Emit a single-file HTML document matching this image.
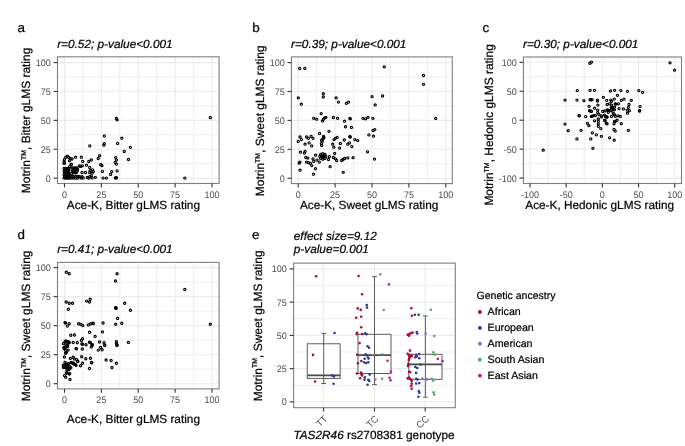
<!DOCTYPE html><html><head><meta charset="utf-8"><style>html,body{margin:0;padding:0;background:#fff;}svg{display:block;will-change:transform;}.k{fill:#000;stroke:#000;stroke-width:.22px;}.g{fill:#4d4d4d;}.pt circle{fill:none;stroke:#000;stroke-width:1.15px;}</style></head><body><svg width="685" height="446" viewBox="0 0 685 446" text-rendering="geometricPrecision" font-family='"Liberation Sans", sans-serif'>
<rect width="685" height="446" fill="#fff"/>
<line x1="64.50" y1="56.8" x2="64.50" y2="183.5" stroke="#ebebeb" stroke-width="1.1"/>
<line x1="101.38" y1="56.8" x2="101.38" y2="183.5" stroke="#ebebeb" stroke-width="1.1"/>
<line x1="138.25" y1="56.8" x2="138.25" y2="183.5" stroke="#ebebeb" stroke-width="1.1"/>
<line x1="175.12" y1="56.8" x2="175.12" y2="183.5" stroke="#ebebeb" stroke-width="1.1"/>
<line x1="212.00" y1="56.8" x2="212.00" y2="183.5" stroke="#ebebeb" stroke-width="1.1"/>
<line x1="82.94" y1="56.8" x2="82.94" y2="183.5" stroke="#ebebeb" stroke-width="0.8"/>
<line x1="119.81" y1="56.8" x2="119.81" y2="183.5" stroke="#ebebeb" stroke-width="0.8"/>
<line x1="156.69" y1="56.8" x2="156.69" y2="183.5" stroke="#ebebeb" stroke-width="0.8"/>
<line x1="193.56" y1="56.8" x2="193.56" y2="183.5" stroke="#ebebeb" stroke-width="0.8"/>
<line x1="57.5" y1="178.10" x2="219.1" y2="178.10" stroke="#ebebeb" stroke-width="1.1"/>
<line x1="57.5" y1="149.22" x2="219.1" y2="149.22" stroke="#ebebeb" stroke-width="1.1"/>
<line x1="57.5" y1="120.35" x2="219.1" y2="120.35" stroke="#ebebeb" stroke-width="1.1"/>
<line x1="57.5" y1="91.47" x2="219.1" y2="91.47" stroke="#ebebeb" stroke-width="1.1"/>
<line x1="57.5" y1="62.60" x2="219.1" y2="62.60" stroke="#ebebeb" stroke-width="1.1"/>
<line x1="57.5" y1="163.66" x2="219.1" y2="163.66" stroke="#ebebeb" stroke-width="0.8"/>
<line x1="57.5" y1="134.79" x2="219.1" y2="134.79" stroke="#ebebeb" stroke-width="0.8"/>
<line x1="57.5" y1="105.91" x2="219.1" y2="105.91" stroke="#ebebeb" stroke-width="0.8"/>
<line x1="57.5" y1="77.04" x2="219.1" y2="77.04" stroke="#ebebeb" stroke-width="0.8"/>
<g class="pt">
<circle cx="116.40" cy="118.40" r="1.1"/>
<circle cx="117.10" cy="119.80" r="1.1"/>
<circle cx="210.30" cy="117.70" r="1.1"/>
<circle cx="104.30" cy="135.90" r="1.1"/>
<circle cx="121.80" cy="138.20" r="1.1"/>
<circle cx="89.80" cy="145.90" r="1.1"/>
<circle cx="104.30" cy="143.60" r="1.1"/>
<circle cx="103.80" cy="145.20" r="1.1"/>
<circle cx="117.60" cy="143.40" r="1.1"/>
<circle cx="130.40" cy="147.30" r="1.1"/>
<circle cx="124.30" cy="151.50" r="1.1"/>
<circle cx="128.50" cy="159.50" r="1.1"/>
<circle cx="99.60" cy="155.70" r="1.1"/>
<circle cx="98.20" cy="158.50" r="1.1"/>
<circle cx="115.70" cy="157.60" r="1.1"/>
<circle cx="116.40" cy="159.90" r="1.1"/>
<circle cx="115.20" cy="162.30" r="1.1"/>
<circle cx="116.40" cy="164.10" r="1.1"/>
<circle cx="100.70" cy="164.60" r="1.1"/>
<circle cx="101.90" cy="165.50" r="1.1"/>
<circle cx="117.10" cy="170.90" r="1.1"/>
<circle cx="111.70" cy="171.60" r="1.1"/>
<circle cx="110.60" cy="174.40" r="1.1"/>
<circle cx="102.40" cy="171.40" r="1.1"/>
<circle cx="103.10" cy="178.10" r="1.1"/>
<circle cx="106.40" cy="178.10" r="1.1"/>
<circle cx="115.90" cy="178.10" r="1.1"/>
<circle cx="116.50" cy="177.60" r="1.1"/>
<circle cx="115.30" cy="177.80" r="1.1"/>
<circle cx="184.80" cy="178.10" r="1.1"/>
<circle cx="67.30" cy="156.10" r="1.1"/>
<circle cx="65.90" cy="157.20" r="1.1"/>
<circle cx="68.80" cy="157.50" r="1.1"/>
<circle cx="70.20" cy="158.60" r="1.1"/>
<circle cx="72.00" cy="159.00" r="1.1"/>
<circle cx="75.60" cy="157.20" r="1.1"/>
<circle cx="81.30" cy="157.20" r="1.1"/>
<circle cx="64.50" cy="159.30" r="1.1"/>
<circle cx="64.10" cy="161.50" r="1.1"/>
<circle cx="64.50" cy="162.90" r="1.1"/>
<circle cx="69.50" cy="160.80" r="1.1"/>
<circle cx="82.70" cy="161.50" r="1.1"/>
<circle cx="88.80" cy="161.50" r="1.1"/>
<circle cx="91.30" cy="160.00" r="1.1"/>
<circle cx="71.30" cy="164.30" r="1.1"/>
<circle cx="69.80" cy="166.50" r="1.1"/>
<circle cx="64.00" cy="163.40" r="1.1"/>
<circle cx="71.30" cy="164.40" r="1.1"/>
<circle cx="79.40" cy="165.80" r="1.1"/>
<circle cx="80.60" cy="166.40" r="1.1"/>
<circle cx="82.40" cy="165.80" r="1.1"/>
<circle cx="86.50" cy="165.20" r="1.1"/>
<circle cx="89.70" cy="167.40" r="1.1"/>
<circle cx="82.00" cy="172.50" r="1.1"/>
<circle cx="85.50" cy="172.50" r="1.1"/>
<circle cx="90.10" cy="170.70" r="1.1"/>
<circle cx="92.50" cy="169.90" r="1.1"/>
<circle cx="93.30" cy="171.50" r="1.1"/>
<circle cx="89.70" cy="172.70" r="1.1"/>
<circle cx="92.10" cy="173.10" r="1.1"/>
<circle cx="87.30" cy="177.50" r="1.1"/>
<circle cx="89.70" cy="176.70" r="1.1"/>
<circle cx="91.30" cy="175.90" r="1.1"/>
<circle cx="92.10" cy="177.90" r="1.1"/>
<circle cx="88.90" cy="178.10" r="1.1"/>
<circle cx="95.30" cy="177.30" r="1.1"/>
<circle cx="78.80" cy="176.30" r="1.1"/>
<circle cx="80.40" cy="177.10" r="1.1"/>
<circle cx="82.00" cy="176.70" r="1.1"/>
<circle cx="83.20" cy="177.90" r="1.1"/>
<circle cx="81.20" cy="178.10" r="1.1"/>
<circle cx="76.30" cy="172.50" r="1.1"/>
<circle cx="71.70" cy="173.50" r="1.1"/>
<circle cx="69.30" cy="174.50" r="1.1"/>
<circle cx="68.90" cy="169.00" r="1.1"/>
<circle cx="64.10" cy="168.40" r="1.1"/>
<circle cx="64.60" cy="170.00" r="1.1"/>
<circle cx="64.10" cy="171.60" r="1.1"/>
<circle cx="64.60" cy="173.20" r="1.1"/>
<circle cx="64.10" cy="174.80" r="1.1"/>
<circle cx="64.60" cy="176.40" r="1.1"/>
<circle cx="64.10" cy="178.10" r="1.1"/>
<circle cx="65.60" cy="168.40" r="1.1"/>
<circle cx="66.10" cy="170.00" r="1.1"/>
<circle cx="65.60" cy="171.60" r="1.1"/>
<circle cx="66.10" cy="173.20" r="1.1"/>
<circle cx="65.60" cy="174.80" r="1.1"/>
<circle cx="66.10" cy="176.40" r="1.1"/>
<circle cx="65.60" cy="178.10" r="1.1"/>
<circle cx="67.10" cy="168.40" r="1.1"/>
<circle cx="67.60" cy="170.00" r="1.1"/>
<circle cx="67.10" cy="171.60" r="1.1"/>
<circle cx="67.60" cy="173.20" r="1.1"/>
<circle cx="67.10" cy="174.80" r="1.1"/>
<circle cx="67.60" cy="176.40" r="1.1"/>
<circle cx="67.10" cy="178.10" r="1.1"/>
<circle cx="68.40" cy="168.40" r="1.1"/>
<circle cx="68.90" cy="170.00" r="1.1"/>
<circle cx="68.40" cy="171.60" r="1.1"/>
<circle cx="68.90" cy="173.20" r="1.1"/>
<circle cx="68.40" cy="174.80" r="1.1"/>
<circle cx="68.90" cy="176.40" r="1.1"/>
<circle cx="68.40" cy="178.10" r="1.1"/>
<circle cx="69.90" cy="176.40" r="1.1"/>
<circle cx="70.00" cy="178.10" r="1.1"/>
<circle cx="72.40" cy="168.00" r="1.1"/>
<circle cx="73.00" cy="169.60" r="1.1"/>
<circle cx="72.40" cy="171.20" r="1.1"/>
<circle cx="74.00" cy="168.00" r="1.1"/>
<circle cx="74.60" cy="169.60" r="1.1"/>
<circle cx="74.00" cy="171.20" r="1.1"/>
<circle cx="75.60" cy="168.00" r="1.1"/>
<circle cx="76.20" cy="169.60" r="1.1"/>
<circle cx="75.60" cy="171.20" r="1.1"/>
<circle cx="77.00" cy="168.00" r="1.1"/>
<circle cx="77.60" cy="169.60" r="1.1"/>
<circle cx="77.00" cy="171.20" r="1.1"/>
<circle cx="73.60" cy="172.60" r="1.1"/>
<circle cx="75.40" cy="172.80" r="1.1"/>
<circle cx="71.80" cy="176.40" r="1.1"/>
<circle cx="71.80" cy="178.10" r="1.1"/>
<circle cx="73.80" cy="176.40" r="1.1"/>
<circle cx="73.80" cy="178.10" r="1.1"/>
<circle cx="75.80" cy="176.40" r="1.1"/>
<circle cx="75.80" cy="178.10" r="1.1"/>
<circle cx="77.80" cy="176.40" r="1.1"/>
<circle cx="77.80" cy="178.10" r="1.1"/>
</g>
<rect x="57.5" y="56.8" width="161.60" height="126.70" fill="none" stroke="#7f7f7f" stroke-width="1.1"/>
<line x1="53.60" y1="178.10" x2="57.5" y2="178.10" stroke="#333333" stroke-width="1.1"/>
<text class="g" transform="translate(50.80,181.65) scale(0.95,1)" font-size="9.5" text-anchor="end">0</text>
<line x1="53.60" y1="149.22" x2="57.5" y2="149.22" stroke="#333333" stroke-width="1.1"/>
<text class="g" transform="translate(50.80,152.78) scale(0.95,1)" font-size="9.5" text-anchor="end">25</text>
<line x1="53.60" y1="120.35" x2="57.5" y2="120.35" stroke="#333333" stroke-width="1.1"/>
<text class="g" transform="translate(50.80,123.90) scale(0.95,1)" font-size="9.5" text-anchor="end">50</text>
<line x1="53.60" y1="91.47" x2="57.5" y2="91.47" stroke="#333333" stroke-width="1.1"/>
<text class="g" transform="translate(50.80,95.02) scale(0.95,1)" font-size="9.5" text-anchor="end">75</text>
<line x1="53.60" y1="62.60" x2="57.5" y2="62.60" stroke="#333333" stroke-width="1.1"/>
<text class="g" transform="translate(50.80,66.15) scale(0.95,1)" font-size="9.5" text-anchor="end">100</text>
<line x1="64.50" y1="183.5" x2="64.50" y2="187.40" stroke="#333333" stroke-width="1.1"/>
<text class="g" transform="translate(64.50,197.80) scale(0.95,1)" font-size="9.5" text-anchor="middle">0</text>
<line x1="101.38" y1="183.5" x2="101.38" y2="187.40" stroke="#333333" stroke-width="1.1"/>
<text class="g" transform="translate(101.38,197.80) scale(0.95,1)" font-size="9.5" text-anchor="middle">25</text>
<line x1="138.25" y1="183.5" x2="138.25" y2="187.40" stroke="#333333" stroke-width="1.1"/>
<text class="g" transform="translate(138.25,197.80) scale(0.95,1)" font-size="9.5" text-anchor="middle">50</text>
<line x1="175.12" y1="183.5" x2="175.12" y2="187.40" stroke="#333333" stroke-width="1.1"/>
<text class="g" transform="translate(175.12,197.80) scale(0.95,1)" font-size="9.5" text-anchor="middle">75</text>
<line x1="212.00" y1="183.5" x2="212.00" y2="187.40" stroke="#333333" stroke-width="1.1"/>
<text class="g" transform="translate(212.00,197.80) scale(0.95,1)" font-size="9.5" text-anchor="middle">100</text>
<line x1="298.20" y1="56.9" x2="298.20" y2="183.6" stroke="#ebebeb" stroke-width="1.1"/>
<line x1="335.10" y1="56.9" x2="335.10" y2="183.6" stroke="#ebebeb" stroke-width="1.1"/>
<line x1="372.00" y1="56.9" x2="372.00" y2="183.6" stroke="#ebebeb" stroke-width="1.1"/>
<line x1="408.90" y1="56.9" x2="408.90" y2="183.6" stroke="#ebebeb" stroke-width="1.1"/>
<line x1="445.80" y1="56.9" x2="445.80" y2="183.6" stroke="#ebebeb" stroke-width="1.1"/>
<line x1="316.65" y1="56.9" x2="316.65" y2="183.6" stroke="#ebebeb" stroke-width="0.8"/>
<line x1="353.55" y1="56.9" x2="353.55" y2="183.6" stroke="#ebebeb" stroke-width="0.8"/>
<line x1="390.45" y1="56.9" x2="390.45" y2="183.6" stroke="#ebebeb" stroke-width="0.8"/>
<line x1="427.35" y1="56.9" x2="427.35" y2="183.6" stroke="#ebebeb" stroke-width="0.8"/>
<line x1="291.4" y1="178.20" x2="452.3" y2="178.20" stroke="#ebebeb" stroke-width="1.1"/>
<line x1="291.4" y1="149.30" x2="452.3" y2="149.30" stroke="#ebebeb" stroke-width="1.1"/>
<line x1="291.4" y1="120.40" x2="452.3" y2="120.40" stroke="#ebebeb" stroke-width="1.1"/>
<line x1="291.4" y1="91.50" x2="452.3" y2="91.50" stroke="#ebebeb" stroke-width="1.1"/>
<line x1="291.4" y1="62.60" x2="452.3" y2="62.60" stroke="#ebebeb" stroke-width="1.1"/>
<line x1="291.4" y1="163.75" x2="452.3" y2="163.75" stroke="#ebebeb" stroke-width="0.8"/>
<line x1="291.4" y1="134.85" x2="452.3" y2="134.85" stroke="#ebebeb" stroke-width="0.8"/>
<line x1="291.4" y1="105.95" x2="452.3" y2="105.95" stroke="#ebebeb" stroke-width="0.8"/>
<line x1="291.4" y1="77.05" x2="452.3" y2="77.05" stroke="#ebebeb" stroke-width="0.8"/>
<g class="pt">
<circle cx="299.70" cy="68.40" r="1.1"/>
<circle cx="304.80" cy="68.40" r="1.1"/>
<circle cx="384.30" cy="66.80" r="1.1"/>
<circle cx="423.50" cy="75.50" r="1.1"/>
<circle cx="423.50" cy="84.30" r="1.1"/>
<circle cx="298.30" cy="97.90" r="1.1"/>
<circle cx="301.30" cy="104.20" r="1.1"/>
<circle cx="323.30" cy="93.70" r="1.1"/>
<circle cx="323.30" cy="97.00" r="1.1"/>
<circle cx="336.10" cy="97.90" r="1.1"/>
<circle cx="338.50" cy="102.10" r="1.1"/>
<circle cx="346.40" cy="103.30" r="1.1"/>
<circle cx="348.50" cy="102.10" r="1.1"/>
<circle cx="372.10" cy="96.70" r="1.1"/>
<circle cx="382.60" cy="96.00" r="1.1"/>
<circle cx="375.20" cy="104.90" r="1.1"/>
<circle cx="321.20" cy="113.60" r="1.1"/>
<circle cx="435.70" cy="118.40" r="1.1"/>
<circle cx="313.70" cy="118.30" r="1.1"/>
<circle cx="316.70" cy="119.20" r="1.1"/>
<circle cx="322.50" cy="120.90" r="1.1"/>
<circle cx="323.50" cy="119.20" r="1.1"/>
<circle cx="324.80" cy="117.90" r="1.1"/>
<circle cx="325.90" cy="117.30" r="1.1"/>
<circle cx="333.40" cy="117.50" r="1.1"/>
<circle cx="337.60" cy="118.30" r="1.1"/>
<circle cx="344.60" cy="121.20" r="1.1"/>
<circle cx="349.80" cy="118.30" r="1.1"/>
<circle cx="350.40" cy="118.80" r="1.1"/>
<circle cx="345.50" cy="126.70" r="1.1"/>
<circle cx="351.40" cy="127.40" r="1.1"/>
<circle cx="363.00" cy="118.30" r="1.1"/>
<circle cx="365.60" cy="118.80" r="1.1"/>
<circle cx="368.00" cy="117.30" r="1.1"/>
<circle cx="372.90" cy="118.30" r="1.1"/>
<circle cx="373.10" cy="130.50" r="1.1"/>
<circle cx="374.80" cy="129.60" r="1.1"/>
<circle cx="368.90" cy="134.90" r="1.1"/>
<circle cx="373.50" cy="136.20" r="1.1"/>
<circle cx="329.00" cy="131.30" r="1.1"/>
<circle cx="319.60" cy="133.40" r="1.1"/>
<circle cx="323.50" cy="136.30" r="1.1"/>
<circle cx="323.90" cy="137.50" r="1.1"/>
<circle cx="323.00" cy="139.00" r="1.1"/>
<circle cx="321.60" cy="140.20" r="1.1"/>
<circle cx="322.20" cy="141.60" r="1.1"/>
<circle cx="321.40" cy="143.60" r="1.1"/>
<circle cx="321.70" cy="145.50" r="1.1"/>
<circle cx="300.10" cy="137.00" r="1.1"/>
<circle cx="301.50" cy="139.60" r="1.1"/>
<circle cx="298.20" cy="141.40" r="1.1"/>
<circle cx="306.50" cy="137.00" r="1.1"/>
<circle cx="308.40" cy="138.30" r="1.1"/>
<circle cx="311.10" cy="136.30" r="1.1"/>
<circle cx="313.00" cy="138.30" r="1.1"/>
<circle cx="305.10" cy="144.20" r="1.1"/>
<circle cx="309.10" cy="142.90" r="1.1"/>
<circle cx="311.70" cy="145.90" r="1.1"/>
<circle cx="334.00" cy="139.60" r="1.1"/>
<circle cx="335.40" cy="138.30" r="1.1"/>
<circle cx="337.10" cy="137.40" r="1.1"/>
<circle cx="344.30" cy="140.00" r="1.1"/>
<circle cx="349.80" cy="136.70" r="1.1"/>
<circle cx="350.20" cy="137.00" r="1.1"/>
<circle cx="349.40" cy="142.90" r="1.1"/>
<circle cx="347.80" cy="144.20" r="1.1"/>
<circle cx="351.80" cy="146.60" r="1.1"/>
<circle cx="340.40" cy="143.50" r="1.1"/>
<circle cx="332.70" cy="144.20" r="1.1"/>
<circle cx="333.80" cy="147.20" r="1.1"/>
<circle cx="339.60" cy="148.10" r="1.1"/>
<circle cx="354.80" cy="139.60" r="1.1"/>
<circle cx="357.70" cy="140.60" r="1.1"/>
<circle cx="300.50" cy="152.20" r="1.1"/>
<circle cx="305.10" cy="151.30" r="1.1"/>
<circle cx="304.50" cy="153.10" r="1.1"/>
<circle cx="367.50" cy="151.80" r="1.1"/>
<circle cx="374.50" cy="159.10" r="1.1"/>
<circle cx="334.70" cy="153.50" r="1.1"/>
<circle cx="315.60" cy="155.20" r="1.1"/>
<circle cx="305.80" cy="157.50" r="1.1"/>
<circle cx="307.80" cy="158.10" r="1.1"/>
<circle cx="306.50" cy="162.10" r="1.1"/>
<circle cx="308.40" cy="162.70" r="1.1"/>
<circle cx="299.90" cy="162.10" r="1.1"/>
<circle cx="299.20" cy="163.10" r="1.1"/>
<circle cx="310.40" cy="163.40" r="1.1"/>
<circle cx="311.70" cy="165.60" r="1.1"/>
<circle cx="313.00" cy="158.80" r="1.1"/>
<circle cx="313.70" cy="161.40" r="1.1"/>
<circle cx="317.00" cy="160.10" r="1.1"/>
<circle cx="319.30" cy="162.10" r="1.1"/>
<circle cx="329.40" cy="156.60" r="1.1"/>
<circle cx="328.50" cy="159.50" r="1.1"/>
<circle cx="333.40" cy="157.50" r="1.1"/>
<circle cx="335.40" cy="158.80" r="1.1"/>
<circle cx="336.70" cy="160.50" r="1.1"/>
<circle cx="341.70" cy="160.50" r="1.1"/>
<circle cx="343.00" cy="159.50" r="1.1"/>
<circle cx="344.60" cy="158.50" r="1.1"/>
<circle cx="347.80" cy="157.90" r="1.1"/>
<circle cx="353.10" cy="157.70" r="1.1"/>
<circle cx="330.10" cy="166.70" r="1.1"/>
<circle cx="315.40" cy="168.70" r="1.1"/>
<circle cx="300.10" cy="170.20" r="1.1"/>
<circle cx="313.40" cy="174.20" r="1.1"/>
<circle cx="343.20" cy="172.30" r="1.1"/>
<circle cx="325.80" cy="156.40" r="1.1"/>
<circle cx="324.92" cy="158.38" r="1.1"/>
<circle cx="322.80" cy="159.20" r="1.1"/>
<circle cx="320.68" cy="158.38" r="1.1"/>
<circle cx="319.80" cy="156.40" r="1.1"/>
<circle cx="320.68" cy="154.42" r="1.1"/>
<circle cx="322.80" cy="153.60" r="1.1"/>
<circle cx="324.92" cy="154.42" r="1.1"/>
<circle cx="324.14" cy="156.78" r="1.1"/>
<circle cx="322.82" cy="157.70" r="1.1"/>
<circle cx="321.47" cy="156.82" r="1.1"/>
<circle cx="321.96" cy="155.36" r="1.1"/>
<circle cx="323.61" cy="155.34" r="1.1"/>
<circle cx="322.80" cy="156.40" r="1.1"/>
</g>
<rect x="291.4" y="56.9" width="160.90" height="126.70" fill="none" stroke="#7f7f7f" stroke-width="1.1"/>
<line x1="287.50" y1="178.20" x2="291.4" y2="178.20" stroke="#333333" stroke-width="1.1"/>
<text class="g" transform="translate(284.70,181.75) scale(0.95,1)" font-size="9.5" text-anchor="end">0</text>
<line x1="287.50" y1="149.30" x2="291.4" y2="149.30" stroke="#333333" stroke-width="1.1"/>
<text class="g" transform="translate(284.70,152.85) scale(0.95,1)" font-size="9.5" text-anchor="end">25</text>
<line x1="287.50" y1="120.40" x2="291.4" y2="120.40" stroke="#333333" stroke-width="1.1"/>
<text class="g" transform="translate(284.70,123.95) scale(0.95,1)" font-size="9.5" text-anchor="end">50</text>
<line x1="287.50" y1="91.50" x2="291.4" y2="91.50" stroke="#333333" stroke-width="1.1"/>
<text class="g" transform="translate(284.70,95.05) scale(0.95,1)" font-size="9.5" text-anchor="end">75</text>
<line x1="287.50" y1="62.60" x2="291.4" y2="62.60" stroke="#333333" stroke-width="1.1"/>
<text class="g" transform="translate(284.70,66.15) scale(0.95,1)" font-size="9.5" text-anchor="end">100</text>
<line x1="298.20" y1="183.6" x2="298.20" y2="187.50" stroke="#333333" stroke-width="1.1"/>
<text class="g" transform="translate(298.20,197.90) scale(0.95,1)" font-size="9.5" text-anchor="middle">0</text>
<line x1="335.10" y1="183.6" x2="335.10" y2="187.50" stroke="#333333" stroke-width="1.1"/>
<text class="g" transform="translate(335.10,197.90) scale(0.95,1)" font-size="9.5" text-anchor="middle">25</text>
<line x1="372.00" y1="183.6" x2="372.00" y2="187.50" stroke="#333333" stroke-width="1.1"/>
<text class="g" transform="translate(372.00,197.90) scale(0.95,1)" font-size="9.5" text-anchor="middle">50</text>
<line x1="408.90" y1="183.6" x2="408.90" y2="187.50" stroke="#333333" stroke-width="1.1"/>
<text class="g" transform="translate(408.90,197.90) scale(0.95,1)" font-size="9.5" text-anchor="middle">75</text>
<line x1="445.80" y1="183.6" x2="445.80" y2="187.50" stroke="#333333" stroke-width="1.1"/>
<text class="g" transform="translate(445.80,197.90) scale(0.95,1)" font-size="9.5" text-anchor="middle">100</text>
<line x1="530.00" y1="57.0" x2="530.00" y2="183.5" stroke="#ebebeb" stroke-width="1.1"/>
<line x1="566.17" y1="57.0" x2="566.17" y2="183.5" stroke="#ebebeb" stroke-width="1.1"/>
<line x1="602.35" y1="57.0" x2="602.35" y2="183.5" stroke="#ebebeb" stroke-width="1.1"/>
<line x1="638.53" y1="57.0" x2="638.53" y2="183.5" stroke="#ebebeb" stroke-width="1.1"/>
<line x1="674.70" y1="57.0" x2="674.70" y2="183.5" stroke="#ebebeb" stroke-width="1.1"/>
<line x1="548.09" y1="57.0" x2="548.09" y2="183.5" stroke="#ebebeb" stroke-width="0.8"/>
<line x1="584.26" y1="57.0" x2="584.26" y2="183.5" stroke="#ebebeb" stroke-width="0.8"/>
<line x1="620.44" y1="57.0" x2="620.44" y2="183.5" stroke="#ebebeb" stroke-width="0.8"/>
<line x1="656.61" y1="57.0" x2="656.61" y2="183.5" stroke="#ebebeb" stroke-width="0.8"/>
<line x1="523.4" y1="178.10" x2="681.5" y2="178.10" stroke="#ebebeb" stroke-width="1.1"/>
<line x1="523.4" y1="149.15" x2="681.5" y2="149.15" stroke="#ebebeb" stroke-width="1.1"/>
<line x1="523.4" y1="120.20" x2="681.5" y2="120.20" stroke="#ebebeb" stroke-width="1.1"/>
<line x1="523.4" y1="91.25" x2="681.5" y2="91.25" stroke="#ebebeb" stroke-width="1.1"/>
<line x1="523.4" y1="62.30" x2="681.5" y2="62.30" stroke="#ebebeb" stroke-width="1.1"/>
<line x1="523.4" y1="163.62" x2="681.5" y2="163.62" stroke="#ebebeb" stroke-width="0.8"/>
<line x1="523.4" y1="134.68" x2="681.5" y2="134.68" stroke="#ebebeb" stroke-width="0.8"/>
<line x1="523.4" y1="105.72" x2="681.5" y2="105.72" stroke="#ebebeb" stroke-width="0.8"/>
<line x1="523.4" y1="76.77" x2="681.5" y2="76.77" stroke="#ebebeb" stroke-width="0.8"/>
<g class="pt">
<circle cx="589.90" cy="63.20" r="1.1"/>
<circle cx="591.50" cy="62.10" r="1.1"/>
<circle cx="670.00" cy="62.80" r="1.1"/>
<circle cx="674.60" cy="70.20" r="1.1"/>
<circle cx="543.20" cy="150.20" r="1.1"/>
<circle cx="577.30" cy="90.60" r="1.1"/>
<circle cx="590.10" cy="90.30" r="1.1"/>
<circle cx="594.50" cy="90.30" r="1.1"/>
<circle cx="610.50" cy="91.00" r="1.1"/>
<circle cx="614.60" cy="90.30" r="1.1"/>
<circle cx="620.90" cy="90.60" r="1.1"/>
<circle cx="627.50" cy="91.30" r="1.1"/>
<circle cx="638.80" cy="90.60" r="1.1"/>
<circle cx="642.60" cy="92.30" r="1.1"/>
<circle cx="617.50" cy="95.30" r="1.1"/>
<circle cx="603.40" cy="97.30" r="1.1"/>
<circle cx="565.00" cy="100.10" r="1.1"/>
<circle cx="577.00" cy="100.10" r="1.1"/>
<circle cx="583.90" cy="100.70" r="1.1"/>
<circle cx="590.10" cy="99.70" r="1.1"/>
<circle cx="590.80" cy="99.90" r="1.1"/>
<circle cx="592.00" cy="99.70" r="1.1"/>
<circle cx="597.40" cy="100.10" r="1.1"/>
<circle cx="597.40" cy="101.10" r="1.1"/>
<circle cx="606.70" cy="100.30" r="1.1"/>
<circle cx="610.80" cy="100.10" r="1.1"/>
<circle cx="614.20" cy="99.10" r="1.1"/>
<circle cx="611.50" cy="101.30" r="1.1"/>
<circle cx="621.30" cy="100.30" r="1.1"/>
<circle cx="624.00" cy="99.10" r="1.1"/>
<circle cx="631.30" cy="100.30" r="1.1"/>
<circle cx="589.10" cy="106.30" r="1.1"/>
<circle cx="597.90" cy="105.10" r="1.1"/>
<circle cx="594.50" cy="108.20" r="1.1"/>
<circle cx="607.10" cy="104.50" r="1.1"/>
<circle cx="609.60" cy="103.80" r="1.1"/>
<circle cx="611.50" cy="105.10" r="1.1"/>
<circle cx="615.20" cy="103.80" r="1.1"/>
<circle cx="615.60" cy="104.20" r="1.1"/>
<circle cx="618.40" cy="103.80" r="1.1"/>
<circle cx="629.00" cy="104.50" r="1.1"/>
<circle cx="640.10" cy="106.60" r="1.1"/>
<circle cx="628.40" cy="107.30" r="1.1"/>
<circle cx="623.40" cy="108.90" r="1.1"/>
<circle cx="619.00" cy="108.60" r="1.1"/>
<circle cx="589.50" cy="110.70" r="1.1"/>
<circle cx="590.20" cy="110.90" r="1.1"/>
<circle cx="591.40" cy="111.40" r="1.1"/>
<circle cx="597.70" cy="110.10" r="1.1"/>
<circle cx="597.70" cy="112.60" r="1.1"/>
<circle cx="602.70" cy="111.40" r="1.1"/>
<circle cx="607.50" cy="109.90" r="1.1"/>
<circle cx="607.90" cy="110.40" r="1.1"/>
<circle cx="627.20" cy="110.10" r="1.1"/>
<circle cx="629.40" cy="110.70" r="1.1"/>
<circle cx="639.50" cy="110.70" r="1.1"/>
<circle cx="639.60" cy="111.00" r="1.1"/>
<circle cx="627.50" cy="113.20" r="1.1"/>
<circle cx="579.10" cy="115.50" r="1.1"/>
<circle cx="579.30" cy="115.80" r="1.1"/>
<circle cx="585.70" cy="116.60" r="1.1"/>
<circle cx="591.40" cy="116.40" r="1.1"/>
<circle cx="592.50" cy="116.10" r="1.1"/>
<circle cx="594.00" cy="115.60" r="1.1"/>
<circle cx="595.50" cy="115.60" r="1.1"/>
<circle cx="598.90" cy="114.50" r="1.1"/>
<circle cx="601.40" cy="115.80" r="1.1"/>
<circle cx="604.60" cy="115.10" r="1.1"/>
<circle cx="607.10" cy="117.00" r="1.1"/>
<circle cx="611.50" cy="116.40" r="1.1"/>
<circle cx="617.80" cy="115.80" r="1.1"/>
<circle cx="620.30" cy="116.40" r="1.1"/>
<circle cx="601.40" cy="116.90" r="1.1"/>
<circle cx="606.50" cy="116.90" r="1.1"/>
<circle cx="615.20" cy="116.30" r="1.1"/>
<circle cx="594.50" cy="120.80" r="1.1"/>
<circle cx="598.30" cy="118.90" r="1.1"/>
<circle cx="598.30" cy="121.30" r="1.1"/>
<circle cx="598.30" cy="123.80" r="1.1"/>
<circle cx="598.30" cy="126.30" r="1.1"/>
<circle cx="600.80" cy="128.60" r="1.1"/>
<circle cx="604.60" cy="120.20" r="1.1"/>
<circle cx="605.20" cy="120.60" r="1.1"/>
<circle cx="606.20" cy="123.20" r="1.1"/>
<circle cx="607.10" cy="123.80" r="1.1"/>
<circle cx="614.60" cy="121.40" r="1.1"/>
<circle cx="617.10" cy="120.20" r="1.1"/>
<circle cx="621.30" cy="123.70" r="1.1"/>
<circle cx="587.40" cy="123.30" r="1.1"/>
<circle cx="588.90" cy="125.70" r="1.1"/>
<circle cx="565.00" cy="124.10" r="1.1"/>
<circle cx="614.00" cy="123.80" r="1.1"/>
<circle cx="615.20" cy="121.30" r="1.1"/>
<circle cx="568.20" cy="130.70" r="1.1"/>
<circle cx="581.10" cy="130.30" r="1.1"/>
<circle cx="614.00" cy="129.40" r="1.1"/>
<circle cx="615.20" cy="131.10" r="1.1"/>
<circle cx="628.40" cy="130.30" r="1.1"/>
<circle cx="592.40" cy="132.80" r="1.1"/>
<circle cx="596.40" cy="134.80" r="1.1"/>
<circle cx="601.40" cy="136.30" r="1.1"/>
<circle cx="609.60" cy="137.80" r="1.1"/>
<circle cx="614.20" cy="140.20" r="1.1"/>
<circle cx="576.90" cy="138.90" r="1.1"/>
<circle cx="590.80" cy="138.90" r="1.1"/>
<circle cx="592.90" cy="148.30" r="1.1"/>
<circle cx="612.78" cy="107.78" r="1.1"/>
<circle cx="614.58" cy="107.12" r="1.1"/>
<circle cx="613.95" cy="109.61" r="1.1"/>
<circle cx="611.32" cy="110.81" r="1.1"/>
<circle cx="611.21" cy="110.19" r="1.1"/>
<circle cx="611.38" cy="107.27" r="1.1"/>
<circle cx="613.33" cy="113.53" r="1.1"/>
<circle cx="611.68" cy="108.40" r="1.1"/>
<circle cx="614.45" cy="114.56" r="1.1"/>
<circle cx="614.17" cy="109.87" r="1.1"/>
<circle cx="608.88" cy="110.37" r="1.1"/>
<circle cx="608.29" cy="112.32" r="1.1"/>
<circle cx="604.72" cy="110.94" r="1.1"/>
<circle cx="605.54" cy="116.53" r="1.1"/>
</g>
<rect x="523.4" y="57.0" width="158.10" height="126.50" fill="none" stroke="#7f7f7f" stroke-width="1.1"/>
<line x1="519.50" y1="178.10" x2="523.4" y2="178.10" stroke="#333333" stroke-width="1.1"/>
<text class="g" transform="translate(516.70,181.65) scale(0.95,1)" font-size="9.5" text-anchor="end">-100</text>
<line x1="519.50" y1="149.15" x2="523.4" y2="149.15" stroke="#333333" stroke-width="1.1"/>
<text class="g" transform="translate(516.70,152.70) scale(0.95,1)" font-size="9.5" text-anchor="end">-50</text>
<line x1="519.50" y1="120.20" x2="523.4" y2="120.20" stroke="#333333" stroke-width="1.1"/>
<text class="g" transform="translate(516.70,123.75) scale(0.95,1)" font-size="9.5" text-anchor="end">0</text>
<line x1="519.50" y1="91.25" x2="523.4" y2="91.25" stroke="#333333" stroke-width="1.1"/>
<text class="g" transform="translate(516.70,94.80) scale(0.95,1)" font-size="9.5" text-anchor="end">50</text>
<line x1="519.50" y1="62.30" x2="523.4" y2="62.30" stroke="#333333" stroke-width="1.1"/>
<text class="g" transform="translate(516.70,65.85) scale(0.95,1)" font-size="9.5" text-anchor="end">100</text>
<line x1="530.00" y1="183.5" x2="530.00" y2="187.40" stroke="#333333" stroke-width="1.1"/>
<text class="g" transform="translate(530.00,197.80) scale(0.95,1)" font-size="9.5" text-anchor="middle">-100</text>
<line x1="566.17" y1="183.5" x2="566.17" y2="187.40" stroke="#333333" stroke-width="1.1"/>
<text class="g" transform="translate(566.17,197.80) scale(0.95,1)" font-size="9.5" text-anchor="middle">-50</text>
<line x1="602.35" y1="183.5" x2="602.35" y2="187.40" stroke="#333333" stroke-width="1.1"/>
<text class="g" transform="translate(602.35,197.80) scale(0.95,1)" font-size="9.5" text-anchor="middle">0</text>
<line x1="638.53" y1="183.5" x2="638.53" y2="187.40" stroke="#333333" stroke-width="1.1"/>
<text class="g" transform="translate(638.53,197.80) scale(0.95,1)" font-size="9.5" text-anchor="middle">50</text>
<line x1="674.70" y1="183.5" x2="674.70" y2="187.40" stroke="#333333" stroke-width="1.1"/>
<text class="g" transform="translate(674.70,197.80) scale(0.95,1)" font-size="9.5" text-anchor="middle">100</text>
<line x1="64.50" y1="262.4" x2="64.50" y2="388.9" stroke="#ebebeb" stroke-width="1.1"/>
<line x1="101.38" y1="262.4" x2="101.38" y2="388.9" stroke="#ebebeb" stroke-width="1.1"/>
<line x1="138.25" y1="262.4" x2="138.25" y2="388.9" stroke="#ebebeb" stroke-width="1.1"/>
<line x1="175.12" y1="262.4" x2="175.12" y2="388.9" stroke="#ebebeb" stroke-width="1.1"/>
<line x1="212.00" y1="262.4" x2="212.00" y2="388.9" stroke="#ebebeb" stroke-width="1.1"/>
<line x1="82.94" y1="262.4" x2="82.94" y2="388.9" stroke="#ebebeb" stroke-width="0.8"/>
<line x1="119.81" y1="262.4" x2="119.81" y2="388.9" stroke="#ebebeb" stroke-width="0.8"/>
<line x1="156.69" y1="262.4" x2="156.69" y2="388.9" stroke="#ebebeb" stroke-width="0.8"/>
<line x1="193.56" y1="262.4" x2="193.56" y2="388.9" stroke="#ebebeb" stroke-width="0.8"/>
<line x1="57.5" y1="383.70" x2="219.1" y2="383.70" stroke="#ebebeb" stroke-width="1.1"/>
<line x1="57.5" y1="354.68" x2="219.1" y2="354.68" stroke="#ebebeb" stroke-width="1.1"/>
<line x1="57.5" y1="325.65" x2="219.1" y2="325.65" stroke="#ebebeb" stroke-width="1.1"/>
<line x1="57.5" y1="296.62" x2="219.1" y2="296.62" stroke="#ebebeb" stroke-width="1.1"/>
<line x1="57.5" y1="267.60" x2="219.1" y2="267.60" stroke="#ebebeb" stroke-width="1.1"/>
<line x1="57.5" y1="369.19" x2="219.1" y2="369.19" stroke="#ebebeb" stroke-width="0.8"/>
<line x1="57.5" y1="340.16" x2="219.1" y2="340.16" stroke="#ebebeb" stroke-width="0.8"/>
<line x1="57.5" y1="311.14" x2="219.1" y2="311.14" stroke="#ebebeb" stroke-width="0.8"/>
<line x1="57.5" y1="282.11" x2="219.1" y2="282.11" stroke="#ebebeb" stroke-width="0.8"/>
<g class="pt">
<circle cx="66.40" cy="272.30" r="1.1"/>
<circle cx="69.20" cy="273.70" r="1.1"/>
<circle cx="117.10" cy="273.70" r="1.1"/>
<circle cx="115.50" cy="281.00" r="1.1"/>
<circle cx="184.80" cy="289.40" r="1.1"/>
<circle cx="66.20" cy="302.00" r="1.1"/>
<circle cx="69.20" cy="303.20" r="1.1"/>
<circle cx="72.50" cy="303.20" r="1.1"/>
<circle cx="86.70" cy="301.10" r="1.1"/>
<circle cx="90.20" cy="299.20" r="1.1"/>
<circle cx="89.50" cy="302.00" r="1.1"/>
<circle cx="68.30" cy="309.30" r="1.1"/>
<circle cx="115.70" cy="307.60" r="1.1"/>
<circle cx="116.20" cy="308.20" r="1.1"/>
<circle cx="115.40" cy="307.90" r="1.1"/>
<circle cx="124.60" cy="303.20" r="1.1"/>
<circle cx="130.40" cy="310.20" r="1.1"/>
<circle cx="117.60" cy="318.40" r="1.1"/>
<circle cx="65.00" cy="322.60" r="1.1"/>
<circle cx="65.50" cy="323.00" r="1.1"/>
<circle cx="69.20" cy="323.70" r="1.1"/>
<circle cx="67.30" cy="326.10" r="1.1"/>
<circle cx="78.60" cy="323.70" r="1.1"/>
<circle cx="80.90" cy="324.40" r="1.1"/>
<circle cx="82.80" cy="325.60" r="1.1"/>
<circle cx="88.40" cy="324.90" r="1.1"/>
<circle cx="90.70" cy="323.70" r="1.1"/>
<circle cx="93.00" cy="323.30" r="1.1"/>
<circle cx="93.40" cy="323.60" r="1.1"/>
<circle cx="103.10" cy="323.00" r="1.1"/>
<circle cx="115.70" cy="324.20" r="1.1"/>
<circle cx="121.80" cy="323.30" r="1.1"/>
<circle cx="210.30" cy="324.20" r="1.1"/>
<circle cx="89.50" cy="332.30" r="1.1"/>
<circle cx="102.40" cy="331.90" r="1.1"/>
<circle cx="70.80" cy="335.20" r="1.1"/>
<circle cx="74.40" cy="335.00" r="1.1"/>
<circle cx="95.10" cy="336.40" r="1.1"/>
<circle cx="82.50" cy="338.70" r="1.1"/>
<circle cx="81.40" cy="340.40" r="1.1"/>
<circle cx="65.00" cy="341.60" r="1.1"/>
<circle cx="66.00" cy="341.00" r="1.1"/>
<circle cx="68.50" cy="341.60" r="1.1"/>
<circle cx="73.20" cy="342.50" r="1.1"/>
<circle cx="77.30" cy="342.80" r="1.1"/>
<circle cx="81.90" cy="343.90" r="1.1"/>
<circle cx="82.60" cy="344.30" r="1.1"/>
<circle cx="86.00" cy="344.80" r="1.1"/>
<circle cx="89.50" cy="342.20" r="1.1"/>
<circle cx="90.40" cy="342.80" r="1.1"/>
<circle cx="91.90" cy="345.50" r="1.1"/>
<circle cx="92.50" cy="344.80" r="1.1"/>
<circle cx="91.30" cy="347.10" r="1.1"/>
<circle cx="99.50" cy="342.00" r="1.1"/>
<circle cx="104.10" cy="342.80" r="1.1"/>
<circle cx="104.70" cy="345.10" r="1.1"/>
<circle cx="116.40" cy="341.60" r="1.1"/>
<circle cx="116.40" cy="343.20" r="1.1"/>
<circle cx="117.00" cy="344.80" r="1.1"/>
<circle cx="128.40" cy="342.40" r="1.1"/>
<circle cx="76.10" cy="348.60" r="1.1"/>
<circle cx="82.30" cy="349.00" r="1.1"/>
<circle cx="100.60" cy="347.40" r="1.1"/>
<circle cx="102.10" cy="349.80" r="1.1"/>
<circle cx="98.30" cy="350.10" r="1.1"/>
<circle cx="76.50" cy="348.70" r="1.1"/>
<circle cx="104.70" cy="345.60" r="1.1"/>
<circle cx="117.00" cy="345.60" r="1.1"/>
<circle cx="64.40" cy="357.00" r="1.1"/>
<circle cx="65.60" cy="353.20" r="1.1"/>
<circle cx="70.30" cy="358.40" r="1.1"/>
<circle cx="73.20" cy="357.30" r="1.1"/>
<circle cx="74.40" cy="359.00" r="1.1"/>
<circle cx="76.70" cy="359.60" r="1.1"/>
<circle cx="77.90" cy="361.40" r="1.1"/>
<circle cx="65.00" cy="362.50" r="1.1"/>
<circle cx="66.20" cy="364.30" r="1.1"/>
<circle cx="65.00" cy="367.20" r="1.1"/>
<circle cx="71.40" cy="362.50" r="1.1"/>
<circle cx="72.00" cy="362.90" r="1.1"/>
<circle cx="73.20" cy="363.70" r="1.1"/>
<circle cx="74.60" cy="364.30" r="1.1"/>
<circle cx="76.10" cy="365.40" r="1.1"/>
<circle cx="69.70" cy="366.60" r="1.1"/>
<circle cx="70.80" cy="367.80" r="1.1"/>
<circle cx="69.10" cy="369.50" r="1.1"/>
<circle cx="81.70" cy="356.70" r="1.1"/>
<circle cx="85.80" cy="358.80" r="1.1"/>
<circle cx="90.40" cy="358.20" r="1.1"/>
<circle cx="82.50" cy="363.30" r="1.1"/>
<circle cx="80.50" cy="365.80" r="1.1"/>
<circle cx="91.50" cy="362.50" r="1.1"/>
<circle cx="91.80" cy="362.80" r="1.1"/>
<circle cx="89.50" cy="368.40" r="1.1"/>
<circle cx="106.10" cy="360.00" r="1.1"/>
<circle cx="111.10" cy="360.50" r="1.1"/>
<circle cx="116.40" cy="363.30" r="1.1"/>
<circle cx="112.00" cy="367.50" r="1.1"/>
<circle cx="71.00" cy="362.60" r="1.1"/>
<circle cx="73.60" cy="363.30" r="1.1"/>
<circle cx="75.60" cy="364.60" r="1.1"/>
<circle cx="77.50" cy="361.30" r="1.1"/>
<circle cx="64.50" cy="375.60" r="1.1"/>
<circle cx="65.80" cy="377.20" r="1.1"/>
<circle cx="66.50" cy="372.70" r="1.1"/>
<circle cx="69.40" cy="374.00" r="1.1"/>
<circle cx="66.80" cy="373.00" r="1.1"/>
<circle cx="69.70" cy="373.60" r="1.1"/>
<circle cx="70.00" cy="379.50" r="1.1"/>
<circle cx="64.17" cy="348.56" r="1.1"/>
<circle cx="67.15" cy="345.84" r="1.1"/>
<circle cx="66.56" cy="341.82" r="1.1"/>
<circle cx="63.39" cy="343.68" r="1.1"/>
<circle cx="67.42" cy="346.56" r="1.1"/>
<circle cx="65.04" cy="348.61" r="1.1"/>
<circle cx="65.95" cy="344.90" r="1.1"/>
<circle cx="68.16" cy="350.09" r="1.1"/>
<circle cx="64.59" cy="348.47" r="1.1"/>
<circle cx="66.41" cy="352.38" r="1.1"/>
<circle cx="67.74" cy="344.74" r="1.1"/>
<circle cx="69.37" cy="342.53" r="1.1"/>
<circle cx="65.72" cy="350.84" r="1.1"/>
<circle cx="63.99" cy="347.36" r="1.1"/>
<circle cx="63.43" cy="367.01" r="1.1"/>
<circle cx="67.71" cy="366.16" r="1.1"/>
<circle cx="68.37" cy="363.82" r="1.1"/>
<circle cx="67.30" cy="366.35" r="1.1"/>
<circle cx="66.62" cy="365.11" r="1.1"/>
<circle cx="68.16" cy="369.50" r="1.1"/>
<circle cx="66.00" cy="366.98" r="1.1"/>
<circle cx="63.56" cy="367.31" r="1.1"/>
<circle cx="67.02" cy="369.94" r="1.1"/>
<circle cx="68.05" cy="363.56" r="1.1"/>
<circle cx="65.48" cy="367.02" r="1.1"/>
<circle cx="63.33" cy="365.16" r="1.1"/>
</g>
<rect x="57.5" y="262.4" width="161.60" height="126.50" fill="none" stroke="#7f7f7f" stroke-width="1.1"/>
<line x1="53.60" y1="383.70" x2="57.5" y2="383.70" stroke="#333333" stroke-width="1.1"/>
<text class="g" transform="translate(50.80,387.25) scale(0.95,1)" font-size="9.5" text-anchor="end">0</text>
<line x1="53.60" y1="354.68" x2="57.5" y2="354.68" stroke="#333333" stroke-width="1.1"/>
<text class="g" transform="translate(50.80,358.23) scale(0.95,1)" font-size="9.5" text-anchor="end">25</text>
<line x1="53.60" y1="325.65" x2="57.5" y2="325.65" stroke="#333333" stroke-width="1.1"/>
<text class="g" transform="translate(50.80,329.20) scale(0.95,1)" font-size="9.5" text-anchor="end">50</text>
<line x1="53.60" y1="296.62" x2="57.5" y2="296.62" stroke="#333333" stroke-width="1.1"/>
<text class="g" transform="translate(50.80,300.18) scale(0.95,1)" font-size="9.5" text-anchor="end">75</text>
<line x1="53.60" y1="267.60" x2="57.5" y2="267.60" stroke="#333333" stroke-width="1.1"/>
<text class="g" transform="translate(50.80,271.15) scale(0.95,1)" font-size="9.5" text-anchor="end">100</text>
<line x1="64.50" y1="388.9" x2="64.50" y2="392.80" stroke="#333333" stroke-width="1.1"/>
<text class="g" transform="translate(64.50,403.20) scale(0.95,1)" font-size="9.5" text-anchor="middle">0</text>
<line x1="101.38" y1="388.9" x2="101.38" y2="392.80" stroke="#333333" stroke-width="1.1"/>
<text class="g" transform="translate(101.38,403.20) scale(0.95,1)" font-size="9.5" text-anchor="middle">25</text>
<line x1="138.25" y1="388.9" x2="138.25" y2="392.80" stroke="#333333" stroke-width="1.1"/>
<text class="g" transform="translate(138.25,403.20) scale(0.95,1)" font-size="9.5" text-anchor="middle">50</text>
<line x1="175.12" y1="388.9" x2="175.12" y2="392.80" stroke="#333333" stroke-width="1.1"/>
<text class="g" transform="translate(175.12,403.20) scale(0.95,1)" font-size="9.5" text-anchor="middle">75</text>
<line x1="212.00" y1="388.9" x2="212.00" y2="392.80" stroke="#333333" stroke-width="1.1"/>
<text class="g" transform="translate(212.00,403.20) scale(0.95,1)" font-size="9.5" text-anchor="middle">100</text>
<line x1="323.60" y1="263.1" x2="323.60" y2="407.7" stroke="#ebebeb" stroke-width="1.1"/>
<line x1="374.50" y1="263.1" x2="374.50" y2="407.7" stroke="#ebebeb" stroke-width="1.1"/>
<line x1="425.20" y1="263.1" x2="425.20" y2="407.7" stroke="#ebebeb" stroke-width="1.1"/>
<line x1="293.6" y1="401.90" x2="455.3" y2="401.90" stroke="#ebebeb" stroke-width="1.1"/>
<line x1="293.6" y1="368.65" x2="455.3" y2="368.65" stroke="#ebebeb" stroke-width="1.1"/>
<line x1="293.6" y1="335.40" x2="455.3" y2="335.40" stroke="#ebebeb" stroke-width="1.1"/>
<line x1="293.6" y1="302.15" x2="455.3" y2="302.15" stroke="#ebebeb" stroke-width="1.1"/>
<line x1="293.6" y1="268.90" x2="455.3" y2="268.90" stroke="#ebebeb" stroke-width="1.1"/>
<line x1="293.6" y1="385.27" x2="455.3" y2="385.27" stroke="#ebebeb" stroke-width="0.8"/>
<line x1="293.6" y1="352.02" x2="455.3" y2="352.02" stroke="#ebebeb" stroke-width="0.8"/>
<line x1="293.6" y1="318.77" x2="455.3" y2="318.77" stroke="#ebebeb" stroke-width="0.8"/>
<line x1="293.6" y1="285.52" x2="455.3" y2="285.52" stroke="#ebebeb" stroke-width="0.8"/>
<rect x="307.25" y="343.8" width="32.90" height="34.60" fill="#fff" stroke="#4a4a4a" stroke-width="0.9"/>
<line x1="307.25" y1="375.4" x2="340.15" y2="375.4" stroke="#4a4a4a" stroke-width="1.7"/>
<line x1="323.7" y1="333.4" x2="323.7" y2="383.5" stroke="#4a4a4a" stroke-width="0.9"/>
<line x1="321.3" y1="333.4" x2="326.09999999999997" y2="333.4" stroke="#4a4a4a" stroke-width="0.9"/>
<line x1="321.3" y1="383.5" x2="326.09999999999997" y2="383.5" stroke="#4a4a4a" stroke-width="0.9"/>
<rect x="358.00" y="334.3" width="33.00" height="39.20" fill="#fff" stroke="#4a4a4a" stroke-width="0.9"/>
<line x1="358.00" y1="355.2" x2="391.00" y2="355.2" stroke="#4a4a4a" stroke-width="1.7"/>
<line x1="374.5" y1="276.6" x2="374.5" y2="384.6" stroke="#4a4a4a" stroke-width="0.9"/>
<line x1="372.1" y1="276.6" x2="376.9" y2="276.6" stroke="#4a4a4a" stroke-width="0.9"/>
<line x1="372.1" y1="384.6" x2="376.9" y2="384.6" stroke="#4a4a4a" stroke-width="0.9"/>
<rect x="408.80" y="354.3" width="33.20" height="25.00" fill="#fff" stroke="#4a4a4a" stroke-width="0.9"/>
<line x1="408.80" y1="364.3" x2="442.00" y2="364.3" stroke="#4a4a4a" stroke-width="1.7"/>
<line x1="425.4" y1="315.9" x2="425.4" y2="397.2" stroke="#4a4a4a" stroke-width="0.9"/>
<line x1="423.0" y1="315.9" x2="427.79999999999995" y2="315.9" stroke="#4a4a4a" stroke-width="0.9"/>
<line x1="423.0" y1="397.2" x2="427.79999999999995" y2="397.2" stroke="#4a4a4a" stroke-width="0.9"/>
<circle cx="316.20" cy="276.30" r="1.3" fill="#a50f37"/>
<circle cx="313.00" cy="354.90" r="1.3" fill="#a50f37"/>
<circle cx="315.10" cy="381.50" r="1.3" fill="#a50f37"/>
<circle cx="334.50" cy="333.00" r="1.3" fill="#2b3a96"/>
<circle cx="332.30" cy="375.40" r="1.3" fill="#2b3a96"/>
<circle cx="333.90" cy="376.40" r="1.3" fill="#2b3a96"/>
<circle cx="333.60" cy="383.80" r="1.3" fill="#2b3a96"/>
<circle cx="358.60" cy="276.10" r="1.3" fill="#a50f37"/>
<circle cx="380.30" cy="274.40" r="1.3" fill="#55a868"/>
<circle cx="388.90" cy="284.40" r="1.3" fill="#c51b8a"/>
<circle cx="362.10" cy="294.20" r="1.3" fill="#a50f37"/>
<circle cx="366.70" cy="305.00" r="1.3" fill="#2b3a96"/>
<circle cx="367.00" cy="307.60" r="1.3" fill="#2b3a96"/>
<circle cx="357.70" cy="308.40" r="1.3" fill="#a50f37"/>
<circle cx="360.70" cy="309.90" r="1.3" fill="#a50f37"/>
<circle cx="383.70" cy="310.00" r="1.3" fill="#55a868"/>
<circle cx="356.20" cy="317.80" r="1.3" fill="#a50f37"/>
<circle cx="361.20" cy="316.70" r="1.3" fill="#a50f37"/>
<circle cx="361.20" cy="327.30" r="1.3" fill="#a50f37"/>
<circle cx="357.10" cy="332.90" r="1.3" fill="#a50f37"/>
<circle cx="356.60" cy="334.10" r="1.3" fill="#a50f37"/>
<circle cx="362.10" cy="334.10" r="1.3" fill="#a50f37"/>
<circle cx="365.10" cy="333.30" r="1.3" fill="#2b3a96"/>
<circle cx="366.60" cy="334.30" r="1.3" fill="#2b3a96"/>
<circle cx="359.60" cy="343.10" r="1.3" fill="#a50f37"/>
<circle cx="367.60" cy="346.20" r="1.3" fill="#2b3a96"/>
<circle cx="369.00" cy="347.70" r="1.3" fill="#2b3a96"/>
<circle cx="357.10" cy="354.70" r="1.3" fill="#a50f37"/>
<circle cx="365.60" cy="354.40" r="1.3" fill="#2b3a96"/>
<circle cx="366.60" cy="355.20" r="1.3" fill="#2b3a96"/>
<circle cx="373.40" cy="355.20" r="1.3" fill="#8a6bbe"/>
<circle cx="382.30" cy="354.20" r="1.3" fill="#55a868"/>
<circle cx="368.00" cy="357.50" r="1.3" fill="#2b3a96"/>
<circle cx="368.60" cy="358.50" r="1.3" fill="#2b3a96"/>
<circle cx="364.60" cy="358.80" r="1.3" fill="#2b3a96"/>
<circle cx="361.30" cy="361.00" r="1.3" fill="#a50f37"/>
<circle cx="387.50" cy="360.80" r="1.3" fill="#c51b8a"/>
<circle cx="364.10" cy="362.30" r="1.3" fill="#2b3a96"/>
<circle cx="366.10" cy="363.10" r="1.3" fill="#2b3a96"/>
<circle cx="368.30" cy="362.30" r="1.3" fill="#2b3a96"/>
<circle cx="357.90" cy="363.30" r="1.3" fill="#a50f37"/>
<circle cx="356.90" cy="373.50" r="1.3" fill="#a50f37"/>
<circle cx="361.10" cy="372.50" r="1.3" fill="#a50f37"/>
<circle cx="361.60" cy="374.20" r="1.3" fill="#a50f37"/>
<circle cx="362.00" cy="375.40" r="1.3" fill="#a50f37"/>
<circle cx="360.10" cy="378.30" r="1.3" fill="#a50f37"/>
<circle cx="369.70" cy="374.40" r="1.3" fill="#2b3a96"/>
<circle cx="364.90" cy="377.30" r="1.3" fill="#2b3a96"/>
<circle cx="364.50" cy="379.60" r="1.3" fill="#2b3a96"/>
<circle cx="368.30" cy="379.90" r="1.3" fill="#2b3a96"/>
<circle cx="369.30" cy="380.90" r="1.3" fill="#2b3a96"/>
<circle cx="367.60" cy="384.70" r="1.3" fill="#2b3a96"/>
<circle cx="375.30" cy="379.50" r="1.3" fill="#8a6bbe"/>
<circle cx="382.10" cy="378.80" r="1.3" fill="#55a868"/>
<circle cx="390.90" cy="371.60" r="1.3" fill="#c51b8a"/>
<circle cx="389.50" cy="377.70" r="1.3" fill="#c51b8a"/>
<circle cx="390.50" cy="380.20" r="1.3" fill="#c51b8a"/>
<circle cx="411.30" cy="308.30" r="1.3" fill="#a50f37"/>
<circle cx="430.80" cy="309.80" r="1.3" fill="#55a868"/>
<circle cx="411.90" cy="315.80" r="1.3" fill="#a50f37"/>
<circle cx="414.90" cy="314.80" r="1.3" fill="#2b3a96"/>
<circle cx="418.70" cy="314.80" r="1.3" fill="#2b3a96"/>
<circle cx="407.60" cy="334.80" r="1.3" fill="#a50f37"/>
<circle cx="409.10" cy="334.30" r="1.3" fill="#a50f37"/>
<circle cx="410.60" cy="333.30" r="1.3" fill="#a50f37"/>
<circle cx="412.60" cy="332.60" r="1.3" fill="#a50f37"/>
<circle cx="409.10" cy="335.80" r="1.3" fill="#a50f37"/>
<circle cx="416.70" cy="332.10" r="1.3" fill="#2b3a96"/>
<circle cx="417.20" cy="333.50" r="1.3" fill="#2b3a96"/>
<circle cx="425.70" cy="333.50" r="1.3" fill="#8a6bbe"/>
<circle cx="434.30" cy="336.10" r="1.3" fill="#55a868"/>
<circle cx="410.00" cy="350.60" r="1.3" fill="#a50f37"/>
<circle cx="407.60" cy="353.70" r="1.3" fill="#a50f37"/>
<circle cx="408.80" cy="354.90" r="1.3" fill="#a50f37"/>
<circle cx="410.40" cy="355.30" r="1.3" fill="#a50f37"/>
<circle cx="412.00" cy="355.70" r="1.3" fill="#a50f37"/>
<circle cx="409.60" cy="356.90" r="1.3" fill="#a50f37"/>
<circle cx="411.20" cy="356.50" r="1.3" fill="#a50f37"/>
<circle cx="409.20" cy="358.50" r="1.3" fill="#a50f37"/>
<circle cx="408.80" cy="360.10" r="1.3" fill="#a50f37"/>
<circle cx="419.10" cy="354.10" r="1.3" fill="#2b3a96"/>
<circle cx="416.10" cy="354.90" r="1.3" fill="#2b3a96"/>
<circle cx="415.30" cy="357.30" r="1.3" fill="#2b3a96"/>
<circle cx="416.90" cy="356.50" r="1.3" fill="#2b3a96"/>
<circle cx="419.30" cy="358.30" r="1.3" fill="#2b3a96"/>
<circle cx="433.30" cy="352.20" r="1.3" fill="#55a868"/>
<circle cx="434.90" cy="354.60" r="1.3" fill="#55a868"/>
<circle cx="437.80" cy="358.90" r="1.3" fill="#c51b8a"/>
<circle cx="442.60" cy="361.00" r="1.3" fill="#c51b8a"/>
<circle cx="408.40" cy="363.70" r="1.3" fill="#a50f37"/>
<circle cx="408.40" cy="364.90" r="1.3" fill="#a50f37"/>
<circle cx="408.00" cy="366.10" r="1.3" fill="#a50f37"/>
<circle cx="420.50" cy="364.50" r="1.3" fill="#2b3a96"/>
<circle cx="415.30" cy="366.90" r="1.3" fill="#2b3a96"/>
<circle cx="417.30" cy="368.00" r="1.3" fill="#2b3a96"/>
<circle cx="409.20" cy="371.70" r="1.3" fill="#a50f37"/>
<circle cx="410.00" cy="372.30" r="1.3" fill="#a50f37"/>
<circle cx="416.10" cy="372.90" r="1.3" fill="#2b3a96"/>
<circle cx="407.60" cy="378.40" r="1.3" fill="#a50f37"/>
<circle cx="409.00" cy="377.50" r="1.3" fill="#a50f37"/>
<circle cx="409.90" cy="378.80" r="1.3" fill="#a50f37"/>
<circle cx="411.20" cy="379.70" r="1.3" fill="#a50f37"/>
<circle cx="411.70" cy="381.10" r="1.3" fill="#a50f37"/>
<circle cx="416.20" cy="378.80" r="1.3" fill="#2b3a96"/>
<circle cx="417.50" cy="379.60" r="1.3" fill="#2b3a96"/>
<circle cx="422.40" cy="378.80" r="1.3" fill="#8a6bbe"/>
<circle cx="426.00" cy="379.60" r="1.3" fill="#8a6bbe"/>
<circle cx="427.40" cy="379.30" r="1.3" fill="#8a6bbe"/>
<circle cx="431.90" cy="378.80" r="1.3" fill="#55a868"/>
<circle cx="433.20" cy="380.60" r="1.3" fill="#55a868"/>
<circle cx="411.70" cy="383.80" r="1.3" fill="#a50f37"/>
<circle cx="411.20" cy="386.00" r="1.3" fill="#a50f37"/>
<circle cx="411.70" cy="388.70" r="1.3" fill="#a50f37"/>
<circle cx="416.20" cy="383.50" r="1.3" fill="#2b3a96"/>
<circle cx="419.30" cy="383.10" r="1.3" fill="#2b3a96"/>
<circle cx="418.80" cy="391.00" r="1.3" fill="#2b3a96"/>
<circle cx="419.30" cy="392.70" r="1.3" fill="#2b3a96"/>
<circle cx="418.40" cy="396.80" r="1.3" fill="#2b3a96"/>
<circle cx="433.60" cy="392.30" r="1.3" fill="#55a868"/>
<circle cx="434.10" cy="394.50" r="1.3" fill="#55a868"/>
<rect x="293.6" y="263.1" width="161.70" height="144.60" fill="none" stroke="#7f7f7f" stroke-width="1.1"/>
<line x1="289.70" y1="401.90" x2="293.6" y2="401.90" stroke="#333333" stroke-width="1.1"/>
<text class="g" transform="translate(286.90,405.45) scale(0.95,1)" font-size="9.5" text-anchor="end">0</text>
<line x1="289.70" y1="368.65" x2="293.6" y2="368.65" stroke="#333333" stroke-width="1.1"/>
<text class="g" transform="translate(286.90,372.20) scale(0.95,1)" font-size="9.5" text-anchor="end">25</text>
<line x1="289.70" y1="335.40" x2="293.6" y2="335.40" stroke="#333333" stroke-width="1.1"/>
<text class="g" transform="translate(286.90,338.95) scale(0.95,1)" font-size="9.5" text-anchor="end">50</text>
<line x1="289.70" y1="302.15" x2="293.6" y2="302.15" stroke="#333333" stroke-width="1.1"/>
<text class="g" transform="translate(286.90,305.70) scale(0.95,1)" font-size="9.5" text-anchor="end">75</text>
<line x1="289.70" y1="268.90" x2="293.6" y2="268.90" stroke="#333333" stroke-width="1.1"/>
<text class="g" transform="translate(286.90,272.45) scale(0.95,1)" font-size="9.5" text-anchor="end">100</text>
<line x1="323.6" y1="407.7" x2="323.6" y2="411.60" stroke="#333333" stroke-width="1.1"/>
<text class="g" transform="translate(328.20,419.4) rotate(-45)" font-size="9.5" text-anchor="end">TT</text>
<line x1="374.5" y1="407.7" x2="374.5" y2="411.60" stroke="#333333" stroke-width="1.1"/>
<text class="g" transform="translate(379.10,419.4) rotate(-45)" font-size="9.5" text-anchor="end">TC</text>
<line x1="425.2" y1="407.7" x2="425.2" y2="411.60" stroke="#333333" stroke-width="1.1"/>
<text class="g" transform="translate(429.80,419.4) rotate(-45)" font-size="9.5" text-anchor="end">CC</text>
<text class="k" transform="translate(17.5,31.5) scale(1.03,1)" font-size="13.0">a</text>
<text class="k" transform="translate(252.3,31.5) scale(1.03,1)" font-size="13.0">b</text>
<text class="k" transform="translate(482.6,31.5) scale(1.03,1)" font-size="13.0">c</text>
<text class="k" transform="translate(17.5,239.3) scale(1.03,1)" font-size="13.0">d</text>
<text class="k" transform="translate(252.0,239.3) scale(1.03,1)" font-size="13.0">e</text>
<text class="k" x="57.2" y="47.5" font-size="11.8" font-style="italic">r=0.52; p-value&lt;0.001</text>
<text class="k" x="291.0" y="47.5" font-size="11.8" font-style="italic">r=0.39; p-value&lt;0.001</text>
<text class="k" x="523.0" y="47.5" font-size="11.8" font-style="italic">r=0.30; p-value&lt;0.001</text>
<text class="k" x="57.2" y="252.7" font-size="11.8" font-style="italic">r=0.41; p-value&lt;0.001</text>
<text class="k" x="293.8" y="240.4" font-size="11.8" font-style="italic">effect size=9.12</text>
<text class="k" x="293.8" y="252.6" font-size="11.8" font-style="italic">p-value=0.001</text>
<text class="k" x="133.4" y="209.3" font-size="11.8" text-anchor="middle">Ace-K, Bitter gLMS rating</text>
<text class="k" x="369.1" y="209.3" font-size="11.8" text-anchor="middle">Ace-K, Sweet gLMS rating</text>
<text class="k" x="599.7" y="209.3" font-size="11.8" text-anchor="middle">Ace-K, Hedonic gLMS rating</text>
<text class="k" x="133.4" y="423.2" font-size="11.8" text-anchor="middle">Ace-K, Bitter gLMS rating</text>
<text class="k" x="374.0" y="439.3" font-size="11.8" text-anchor="middle"><tspan font-style="italic">TAS2R46</tspan> rs2708381 genotype</text>
<text class="k" transform="translate(29.7,120.45) rotate(-90)" font-size="11.95" text-anchor="middle">Motrin<tspan font-size="7" dy="-4.2">TM</tspan><tspan dy="4.2">, Bitter gLMS rating</tspan></text>
<text class="k" transform="translate(264.2,120.75) rotate(-90)" font-size="11.95" text-anchor="middle">Motrin<tspan font-size="7" dy="-4.2">TM</tspan><tspan dy="4.2">, Sweet gLMS rating</tspan></text>
<text class="k" transform="translate(493.3,124.9) rotate(-90)" font-size="11.95" text-anchor="middle">Motrin<tspan font-size="7" dy="-4.2">TM</tspan><tspan dy="4.2">, Hedonic gLMS rating</tspan></text>
<text class="k" transform="translate(29.7,325.9) rotate(-90)" font-size="11.95" text-anchor="middle">Motrin<tspan font-size="7" dy="-4.2">TM</tspan><tspan dy="4.2">, Sweet gLMS rating</tspan></text>
<text class="k" transform="translate(261.5,325.85) rotate(-90)" font-size="11.95" text-anchor="middle">Motrin<tspan font-size="7" dy="-4.2">TM</tspan><tspan dy="4.2">, Sweet gLMS rating</tspan></text>
<text class="k" x="476.6" y="299.2" font-size="10.5">Genetic ancestry</text>
<circle cx="479.9" cy="312.00" r="1.95" fill="#a50f37"/>
<text class="k" x="487.6" y="314.90" font-size="10.65">African</text>
<circle cx="479.9" cy="327.90" r="1.95" fill="#2b3a96"/>
<text class="k" x="487.6" y="330.80" font-size="10.65">European</text>
<circle cx="479.9" cy="343.80" r="1.95" fill="#8a6bbe"/>
<text class="k" x="487.6" y="346.70" font-size="10.65">American</text>
<circle cx="479.9" cy="359.70" r="1.95" fill="#55a868"/>
<text class="k" x="487.6" y="362.60" font-size="10.65">South Asian</text>
<circle cx="479.9" cy="375.60" r="1.95" fill="#c51b8a"/>
<text class="k" x="487.6" y="378.50" font-size="10.65">East Asian</text>
</svg></body></html>
